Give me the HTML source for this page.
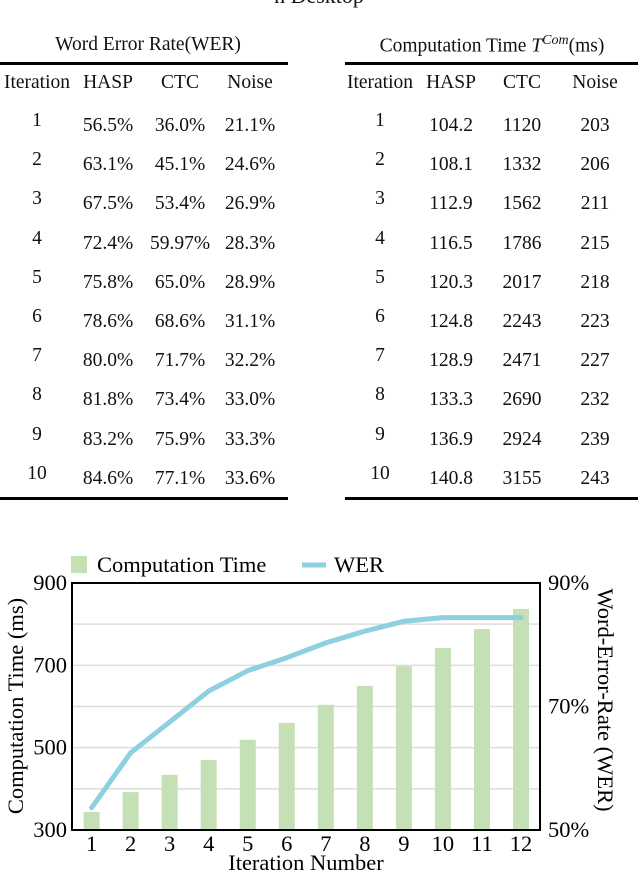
<!DOCTYPE html>
<html><head><meta charset="utf-8"><style>
body{margin:0;width:638px;height:870px;overflow:hidden;background:#fff;font-family:"Liberation Serif",serif;color:#111}
.t{position:absolute;font-size:19.5px;transform:translate(-50%,-50%);white-space:nowrap}
.rule{position:absolute;height:3px;background:#000}
</style></head><body>
<div class="t" style="left:319px;top:-4px;font-size:22px">n Desktop</div>
<div id="tables"></div>
<svg id="chart" width="638" height="870" style="position:absolute;left:0;top:0"></svg>
<script>
const iterations=["1","2","3","4","5","6","7","8","9","10"];
const werHASP=["56.5%","63.1%","67.5%","72.4%","75.8%","78.6%","80.0%","81.8%","83.2%","84.6%"];
const werCTC=["36.0%","45.1%","53.4%","59.97%","65.0%","68.6%","71.7%","73.4%","75.9%","77.1%"];
const werNoise=["21.1%","24.6%","26.9%","28.3%","28.9%","31.1%","32.2%","33.0%","33.3%","33.6%"];
const timeHASP=["104.2","108.1","112.9","116.5","120.3","124.8","128.9","133.3","136.9","140.8"];
const timeCTC=["1120","1332","1562","1786","2017","2243","2471","2690","2924","3155"];
const timeNoise=["203","206","211","215","218","223","227","232","239","243"];

const categories=["1","2","3","4","5","6","7","8","9","10","11","12"];
const compTime=[344,392,434,470,519,560,604,650,698,742,788,837];
const werSeries=[53.6,62.5,67.5,72.5,75.8,77.9,80.3,82.2,83.8,84.4,84.4,84.4];
const leftTicks=[300,500,700,900];
const rightTicks=[50,70,90];

const T=document.getElementById('tables');
function txt(x,y,s,name,extra){const d=document.createElement('div');d.className='t';d.style.left=x+'px';d.style.top=y+'px';if(extra)d.style.cssText+=extra;d.innerHTML=s;


T.appendChild(d);}
function rule(x,w,y,name){const d=document.createElement('div');d.className='rule';d.style.left=x+'px';d.style.width=w+'px';d.style.top=y+'px';


T.appendChild(d);}
txt(148,45,'Word Error Rate(WER)','wer-table-title');
txt(492,45,'Computation Time <i>T</i><sup style="font-size:14px"><i>Com</i></sup>(ms)','time-table-title');
rule(0,288,62,'wer-top-rule');rule(345,293,62,'time-top-rule');
rule(0,288,497,'wer-bottom-rule');rule(345,293,497,'time-bottom-rule');
const lc=[37,108,180,250],rc=[380,451,522,595];
['Iteration','HASP','CTC','Noise'].forEach((h,i)=>{txt(lc[i],83,h,'wer-header-'+h.toLowerCase());txt(rc[i],83,h,'time-header-'+h.toLowerCase());});
iterations.forEach((it,r)=>{const y=126+r*39.2;
txt(lc[0],y-5,it,'wer-iteration-'+it);txt(lc[1],y,werHASP[r],'wer-hasp-'+it);txt(lc[2],y,werCTC[r],'wer-ctc-'+it);txt(lc[3],y,werNoise[r],'wer-noise-'+it);
txt(rc[0],y-5,it,'time-iteration-'+it);txt(rc[1],y,timeHASP[r],'time-hasp-'+it);txt(rc[2],y,timeCTC[r],'time-ctc-'+it);txt(rc[3],y,timeNoise[r],'time-noise-'+it);});

const S=document.getElementById('chart'),NS='http://www.w3.org/2000/svg';
function el(t,a,name){const e=document.createElementNS(NS,t);for(const k in a)e.setAttribute(k,a[k]);


S.appendChild(e);return e;}
const X0=72,X1=540,Y0=830,Y1=583;
const yL=v=>Y0-(v-300)/600*(Y0-Y1);
const yR=v=>Y0-(v-50)/40*(Y0-Y1);
const xC=i=>91.6+i*(521-91.6)/(categories.length-1);
for(let v=400;v<900;v+=100)el('line',{x1:X0,x2:X1,y1:yL(v),y2:yL(v),stroke:'#ddd','stroke-width':1.5},'gridline');
compTime.forEach((v,i)=>el('rect',{x:xC(i)-8,y:yL(v),width:16,height:Y0-yL(v),fill:'#c5e0b4'},'bar-'+categories[i]));
el('polyline',{points:werSeries.map((v,i)=>xC(i)+','+yR(v)).join(' '),fill:'none',stroke:'#8dd0e0','stroke-width':5,'stroke-linecap':'round','stroke-linejoin':'round'},'wer-line');
el('rect',{x:X0,y:Y1,width:X1-X0,height:Y0-Y1,fill:'none',stroke:'#000','stroke-width':2},'plot-frame');
const F='font-family:"Liberation Serif",serif;font-size:22.5px';
leftTicks.forEach(v=>{const t=el('text',{x:67,y:yL(v)+7,'text-anchor':'end',style:F},'left-tick-'+v);t.textContent=v;});
rightTicks.forEach(v=>{const t=el('text',{x:548,y:yR(v)+7,style:F},'right-tick-'+v);t.textContent=v+'%';});
categories.forEach((c,i)=>{const t=el('text',{x:xC(i),y:851,'text-anchor':'middle',style:F},'x-tick-'+c);t.textContent=c;});
let t=el('text',{x:306,y:870,'text-anchor':'middle',style:F},'x-axis-title');t.textContent='Iteration Number';
t=el('text',{x:0,y:0,'text-anchor':'middle',style:F,transform:'translate(23,706) rotate(-90)'},'y-axis-title-left');t.textContent='Computation Time (ms)';
t=el('text',{x:0,y:0,'text-anchor':'middle',style:F,transform:'translate(598,700) rotate(90)'},'y-axis-title-right');t.textContent='Word-Error-Rate (WER)';
el('rect',{x:71,y:556,width:16,height:17,fill:'#c5e0b4'},'legend-swatch-time');
t=el('text',{x:97,y:572,style:F},'legend-label-time');t.textContent='Computation Time';
el('line',{x1:302,x2:326,y1:565,y2:565,stroke:'#8dd0e0','stroke-width':5},'legend-swatch-wer');
t=el('text',{x:334,y:572,style:F},'legend-label-wer');t.textContent='WER';
</script>
</body></html>
